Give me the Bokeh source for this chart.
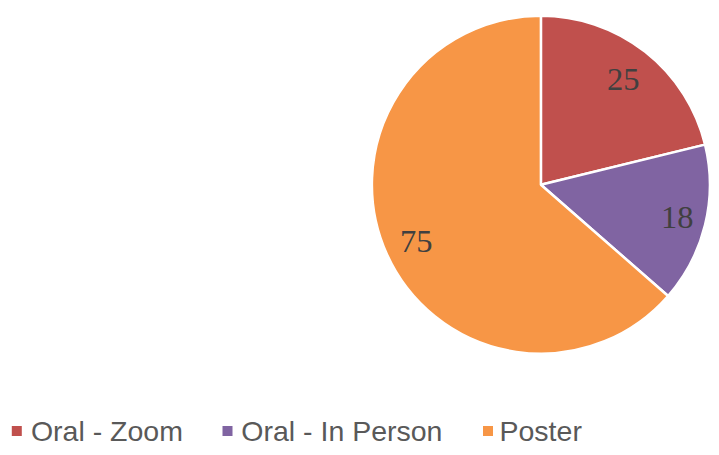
import math
from bokeh.plotting import figure
from bokeh.models import ColumnDataSource
from bokeh.core.properties import value
from bokeh.embed import file_html
from bokeh.resources import INLINE

# ---- data ----
categories = ["Oral - Zoom", "Oral - In Person", "Poster"]
counts = [25, 18, 75]
colors = ["#C0504D", "#8064A2", "#F79646"]

# ---- layout (pixels; data units == pixels) ----
W, H = 711, 447
cx, cy = 540.4, H - 184.2
R = 169.0
label_frac = [0.79, 0.83, 0.81]

total = sum(counts)
starts, ends, lx, ly = [], [], [], []
cum = 0.0
for v, f in zip(counts, label_frac):
    a0 = math.pi / 2 - 2 * math.pi * cum / total
    cum += v
    a1 = math.pi / 2 - 2 * math.pi * cum / total
    starts.append(a0)
    ends.append(a1)
    mid = (a0 + a1) / 2
    lx.append(cx + f * R * math.cos(mid))
    ly.append(cy + f * R * math.sin(mid))

src = ColumnDataSource(dict(cat=categories, val=counts, col=colors,
                            start=starts, end=ends, lx=lx, ly=ly,
                            txt=[str(v) for v in counts]))

p = figure(width=W, height=H, x_range=(0, W), y_range=(0, H),
           output_backend="svg", toolbar_location=None,
           x_axis_location=None, y_axis_location=None, min_border=0)
p.grid.visible = False
p.outline_line_color = None
p.background_fill_color = "white"
p.border_fill_color = "white"

p.wedge(x=cx, y=cy, radius=R, start_angle="start", end_angle="end",
        direction="clock", fill_color="col", line_color="white",
        line_width=2.5, source=src)

p.text(x="lx", y="ly", text="txt", source=src,
       text_font=value("Liberation Serif"), text_font_size="32.5px",
       text_color="#404040", text_align="center", text_baseline="middle")

# ---- legend (custom, horizontal at bottom) ----
sq_x = [16.3, 227.0, 487.5]
tx_x = [30.4, 240.8, 499.0]
leg_y = H - 430.5
p.scatter(x=sq_x, y=[leg_y] * 3, marker="square", size=10,
          fill_color=colors, line_color=None)
p.text(x=tx_x, y=[leg_y] * 3, text=categories,
       text_font=value("Liberation Sans"), text_font_size="28.5px",
       text_color="#595959", text_align="left", text_baseline="middle")

open("out.html", "w").write(file_html(p, INLINE))
